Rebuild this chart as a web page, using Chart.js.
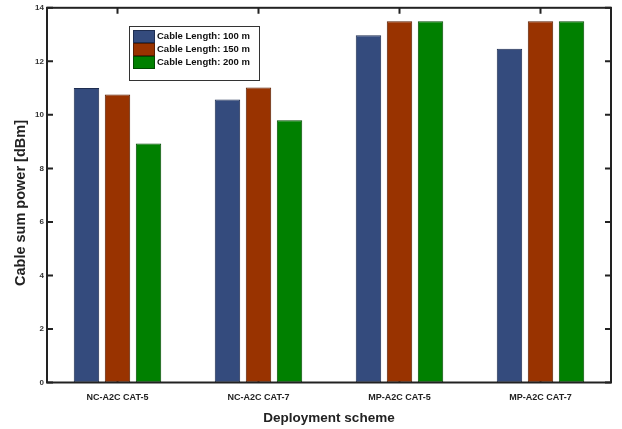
<!DOCTYPE html>
<html>
<head>
<meta charset="utf-8">
<script src="https://cdn.jsdelivr.net/npm/chart.js@4/dist/chart.umd.min.js"></script>
<style>
  html, body { margin: 0; padding: 0; background: #fff; }
  #wrap { width: 622px; height: 429px; }
</style>
</head>
<body>
<div id="wrap"><canvas id="myChart"></canvas></div>
<script>
const categories = ['NC-A2C CAT-5', 'NC-A2C CAT-7', 'MP-A2C CAT-5', 'MP-A2C CAT-7'];
const seriesNames = ['Cable Length: 100 m', 'Cable Length: 150 m', 'Cable Length: 200 m'];
const len100 = [11.0, 10.57, 12.97, 12.47];
const len150 = [10.76, 11.02, 13.5, 13.5];
const len200 = [8.93, 9.8, 13.5, 13.5];
const yTicks = [0, 2, 4, 6, 8, 10, 12, 14];

const fills = ['#344b7d', '#993300', '#008000'];
const edges = ['#1e2d50', '#5a1e00', '#004a00'];
const FONT = '"Liberation Sans", Arial, sans-serif';

// MATLAB-like box with inward ticks, legend and y title
const boxPlugin = {
    id: 'box',
    beforeDatasetsDraw(chart) {
        const {ctx, chartArea: a, scales} = chart;
        ctx.save();
        ctx.strokeStyle = '#222';
        ctx.lineWidth = 2;
        ctx.beginPath();
        yTicks.forEach(v => {
            const y = scales.y.getPixelForValue(v);
            ctx.moveTo(a.left, y); ctx.lineTo(a.left + 6, y);
            ctx.moveTo(a.right, y); ctx.lineTo(a.right - 6, y);
        });
        categories.forEach((c, i) => {
            const x = scales.x.getPixelForTick(i);
            ctx.moveTo(x, a.top); ctx.lineTo(x, a.top + 6);
            ctx.moveTo(x, a.bottom); ctx.lineTo(x, a.bottom - 6);
        });
        ctx.stroke();

        // y axis title
        ctx.translate(21, 203);
        ctx.rotate(-Math.PI / 2);
        ctx.font = 'bold 14.5px ' + FONT;
        ctx.fillStyle = '#222';
        ctx.textAlign = 'center';
        ctx.textBaseline = 'middle';
        ctx.fillText('Cable sum power [dBm]', 0, 0);
        ctx.restore();
    },
    afterDatasetsDraw(chart) {
        const {ctx, chartArea: a} = chart;
        ctx.save();
        ctx.strokeStyle = '#222';
        ctx.lineWidth = 2;
        ctx.strokeRect(a.left, a.top, a.right - a.left, a.bottom - a.top);

        // legend box
        const lx = 129, ly = 26, lw = 130, lh = 54;
        ctx.fillStyle = '#fff';
        ctx.fillRect(lx, ly, lw, lh);
        ctx.lineWidth = 1;
        ctx.strokeStyle = '#333';
        ctx.strokeRect(lx + 0.5, ly + 0.5, lw, lh);
        ctx.font = 'bold 9.5px ' + FONT;
        ctx.textBaseline = 'middle';
        chart.data.datasets.forEach((ds, i) => {
            const ry = 30 + i * 13;
            ctx.fillStyle = ds.backgroundColor;
            ctx.fillRect(133, ry, 22, 13);
            ctx.strokeStyle = ds.borderColor;
            ctx.strokeRect(133.5, ry + 0.5, 21, 12);
            ctx.fillStyle = '#111';
            ctx.fillText(ds.label, 157, ry + 6.5);
        });
        ctx.restore();
    }
};

const ctx = document.getElementById('myChart').getContext('2d');
const myChart = new Chart(ctx, {
    type: 'bar',
    data: {
        labels: categories,
        datasets: [len100, len150, len200].map((d, i) => ({
            label: seriesNames[i],
            data: d,
            backgroundColor: fills[i],
            borderColor: edges[i],
            borderWidth: 1,
            borderSkipped: false,
            categoryPercentage: 0.66,
            barPercentage: 0.82
        }))
    },
    options: {
        responsive: true,
        maintainAspectRatio: false,
        animation: false,
        layout: { padding: { left: 0, right: 11, top: 7, bottom: 0 } },
        plugins: {
            legend: { display: false },
            tooltip: { enabled: false }
        },
        scales: {
            x: {
                grid: { display: false, drawTicks: false },
                border: { display: false },
                ticks: {
                    padding: 10,
                    color: '#222',
                    font: { family: FONT, size: 9, weight: 'bold' }
                },
                title: {
                    display: true,
                    text: 'Deployment scheme',
                    color: '#222',
                    padding: { top: 0, bottom: 3 },
                    font: { family: FONT, size: 13.5, weight: 'bold' }
                },
                afterFit: s => { s.height = 46.5; }
            },
            y: {
                min: 0,
                max: 14,
                grid: { display: false, drawTicks: false },
                border: { display: false },
                ticks: {
                    stepSize: 2,
                    padding: 3,
                    color: '#333',
                    font: { family: FONT, size: 8, weight: 'bold' }
                },
                afterFit: s => { s.width = 47; }
            }
        }
    },
    plugins: [boxPlugin]
});
</script>
</body>
</html>
